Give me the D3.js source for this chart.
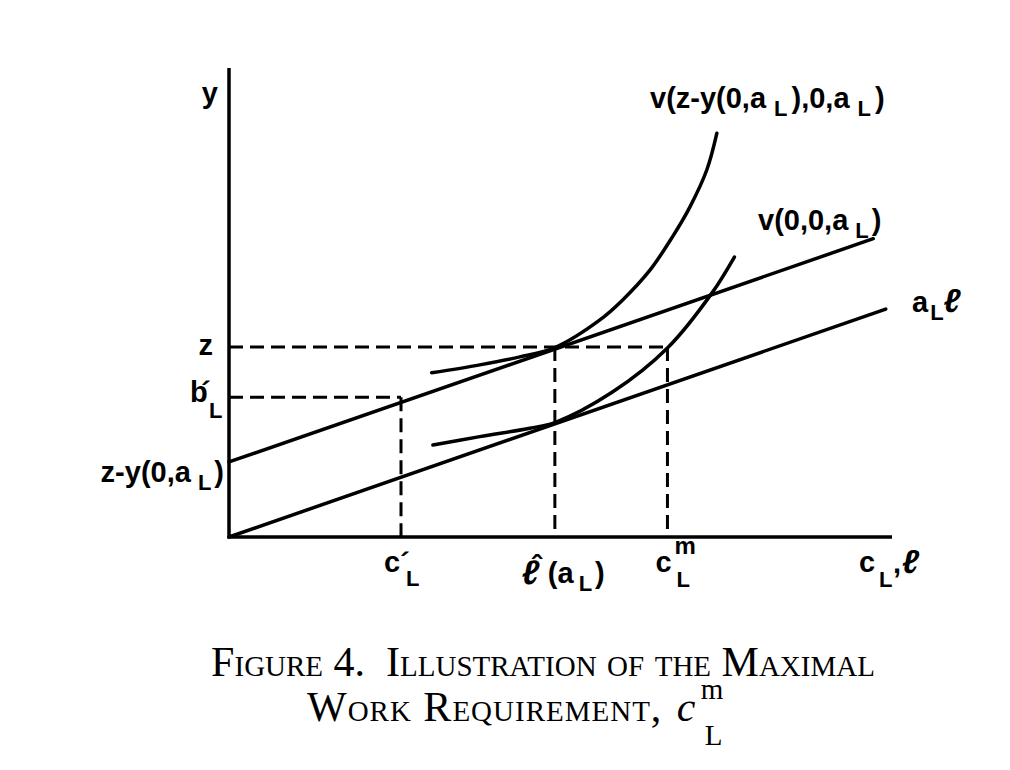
<!DOCTYPE html>
<html>
<head>
<meta charset="utf-8">
<script src="https://cdn.jsdelivr.net/npm/d3@7/dist/d3.min.js"></script>
<style>
  html, body { margin: 0; padding: 0; background: #fff; }
  svg { display: block; }
  .lbl { font-family: "Liberation Sans", Arial, sans-serif; font-weight: bold; fill: #000; }
  .cap { font-family: "Liberation Serif", "Times New Roman", serif; fill: #000; }
</style>
</head>
<body>
<svg id="chart" width="1010" height="770"></svg>
<script>
// ---- data (abstract units) ----
const xMax = 10.6, yMax = 10;
const cPrime = 2.75;       // c'_L
const lHat = 5.21;         // l-hat(a_L)
const cMax = 7.01;         // c^m_L
const zLevel = 4.05;       // z
const bPrime = 2.98;       // b'_L
const zMinusY = 1.6;       // z - y(0,a_L)
const budgetLine = [[0, 0], [10.5, 4.86]];          // a_L * l
const shiftedLine = [[0, 1.6], [10.3, 6.36]];       // shifted line
const upperCurve = [[3.24,3.50],[4.01,3.67],[4.65,3.84],[5.21,4.04],[5.93,4.63],[6.29,5.05],[6.73,5.69],[7.09,6.40],[7.37,7.04],[7.64,7.83],[7.80,8.61]];
const lowerCurve = [[3.26,1.96],[4.01,2.14],[4.81,2.32],[5.21,2.44],[6.13,3.09],[7.01,4.03],[7.72,5.20],[8.08,5.97]];

// ---- scales ----
const svg = d3.select("#chart");
const x = d3.scaleLinear().domain([0, xMax]).range([229, 892]);
const y = d3.scaleLinear().domain([0, yMax]).range([537, 68]);
const line = d3.line().x(d => x(d[0])).y(d => y(d[1]));
const curve = d3.line().x(d => x(d[0])).y(d => y(d[1])).curve(d3.curveCatmullRom.alpha(0.5));

// ---- axes ----
svg.append("path").attr("d", line([[0, yMax], [0, 0], [xMax, 0]]))
  .attr("stroke", "#000").attr("stroke-width", 3.5).attr("fill", "none").attr("stroke-linejoin", "miter");

// ---- dashed guides ----
const dash = svg.append("g").attr("stroke", "#000").attr("stroke-width", 3).attr("stroke-dasharray", "14,7").attr("fill", "none");
dash.append("path").attr("d", line([[0, zLevel], [cMax, zLevel]]));
dash.append("path").attr("d", line([[0, bPrime], [cPrime, bPrime]]));
dash.append("path").attr("d", line([[cPrime, bPrime], [cPrime, 0]]));
dash.append("path").attr("d", line([[lHat, zLevel], [lHat, 0]]));
dash.append("path").attr("d", line([[cMax, zLevel], [cMax, 0]]));

// ---- lines & curves ----
const solid = svg.append("g").attr("stroke", "#000").attr("stroke-width", 3.5).attr("fill", "none").attr("stroke-linecap", "round");
solid.append("path").attr("d", line(budgetLine));
solid.append("path").attr("d", line(shiftedLine));
solid.append("path").attr("d", curve(upperCurve));
solid.append("path").attr("d", curve(lowerCurve));

// ---- labels ----
function label(px, py, parts, anchor, size) {
  const t = svg.append("text").attr("class", "lbl").attr("x", px).attr("y", py)
    .attr("text-anchor", anchor || "start").style("font-size", (size || 29) + "px");
  let shift = 0;
  parts.forEach(p => {
    const s = t.append("tspan").text(p.t);
    if (p.sub) {
      s.style("font-size", "22px").attr("dy", 8 - shift).attr("dx", p.dx != null ? p.dx : 7);
      shift = 8;
    } else {
      s.attr("dy", -shift).attr("dx", p.dx || 0);
      shift = 0;
    }
    if (p.size) s.style("font-size", p.size + "px");
    if (p.italic) s.style("font-style", "italic");
  });
  return t;
}
function symbol(px, py, glyphs) {
  const t = svg.append("text").attr("class", "lbl");
  glyphs.forEach(g => {
    const s = t.append("tspan").attr("x", px + g.dx).attr("y", py + g.dy)
      .style("font-size", (g.size || 29) + "px").text(g.t);
    if (g.anchor) s.attr("text-anchor", g.anchor);
    if (g.italic) s.style("font-style", "italic");
  });
  return t;
}
const x0 = x(0);
label(x0 - 11, y(yMax) + 35, [{t: "y"}], "end");
label(x0 - 16, y(zLevel) + 8, [{t: "z"}], "end");
symbol(x0 - 39, y(bPrime) + 5, [
  {t: "b", dx: 0, dy: 0},
  {t: "´", dx: 11, dy: 0, size: 30},
  {t: "L", dx: 19, dy: 16, size: 22}
]);
label(x0 - 5, y(zMinusY) + 20, [{t: "z-y(0,a"}, {t: "L", sub: true}, {t: ")", dx: 3}], "end");

// x-axis labels
const xb = 572;
symbol(x(cPrime) - 17, xb, [
  {t: "c", dx: 0, dy: 0},
  {t: "´", dx: 16, dy: 1, size: 30},
  {t: "L", dx: 22, dy: 14, size: 22}
]);
symbol(x(lHat) - 33, xb, [
  {t: "ℓ", dx: 0, dy: 12, size: 34, italic: true},
  {t: "ˆ", dx: 15, dy: 4, size: 30, anchor: "middle"}
]);
label(x(lHat) - 7, xb + 11, [{t: "(a"}, {t: "L", sub: true, dx: 5}, {t: ")", dx: 3}]);
symbol(x(cMax) - 12, xb, [
  {t: "c", dx: 0, dy: 0},
  {t: "m", dx: 19, dy: -18, size: 24},
  {t: "L", dx: 21, dy: 15, size: 22}
]);
symbol(x(xMax) - 33, xb, [
  {t: "c", dx: 0, dy: 0},
  {t: "L", dx: 20, dy: 15, size: 22},
  {t: ",", dx: 34, dy: 1},
  {t: "ℓ", dx: 43, dy: 1, size: 33, italic: true}
]);

// curve labels
label(650, 108, [{t: "v(z-y(0,a"}, {t: "L", sub: true, dx: 8}, {t: "),0,a", dx: 4}, {t: "L", sub: true, dx: 8}, {t: ")", dx: 4}]);
label(758, 230, [{t: "v(0,0,a"}, {t: "L", sub: true}, {t: ")", dx: 3}]);
label(912, 312, [{t: "a"}, {t: "L", sub: true, dx: 2}, {t: "ℓ", italic: true, dx: 0, size: 33}]);

// ---- caption ----
svg.append("text").attr("class", "cap").attr("x", 543).attr("y", 676).attr("text-anchor", "middle")
  .style("font-size", "42px").style("font-variant", "small-caps").style("white-space", "pre")
  .text("Figure 4.  Illustration of the Maximal");
const cap2 = svg.append("text").attr("class", "cap").attr("x", 307).attr("y", 721)
  .style("font-size", "42px").style("white-space", "pre");
const main2 = cap2.append("tspan").style("font-variant", "small-caps").style("letter-spacing", "1px").text("Work Requirement, ");
const w2 = main2.node().getComputedTextLength();
const cx = Math.max(307 + w2 + 3, 676);
cap2.append("tspan").attr("x", cx).attr("y", 721).style("font-style", "italic").text("c");
cap2.append("tspan").attr("x", cx + 24).attr("y", 699).style("font-size", "29px").text("m");
cap2.append("tspan").attr("x", cx + 28).attr("y", 745).style("font-size", "29px").text("L");
</script>
</body>
</html>
